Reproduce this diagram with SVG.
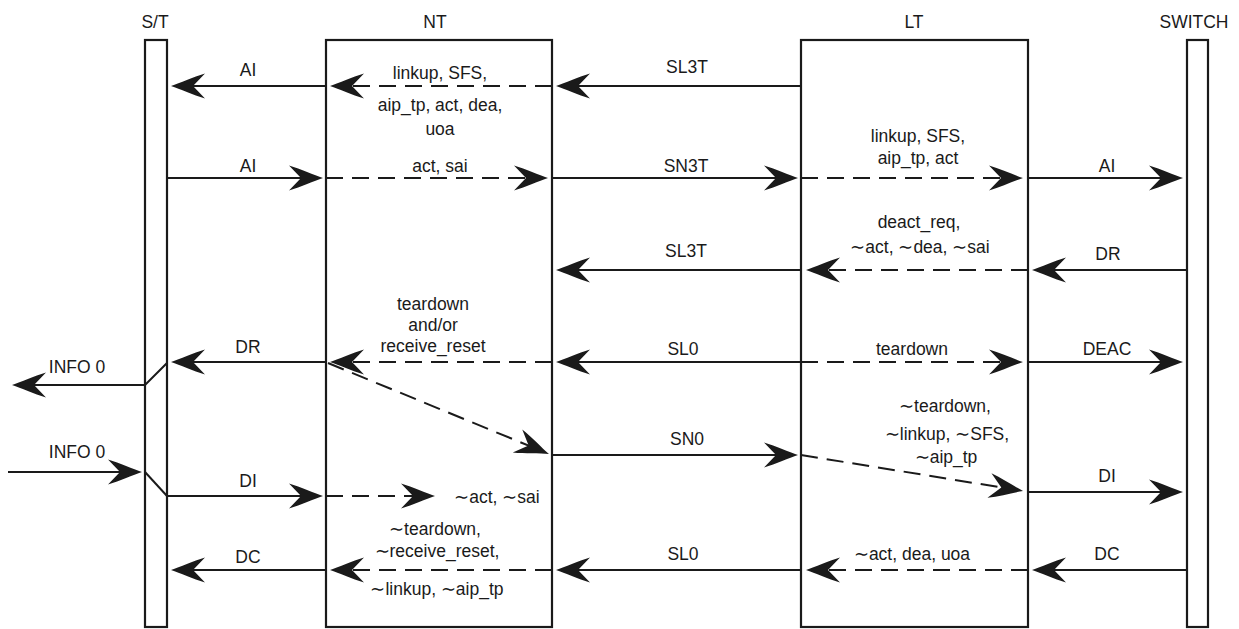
<svg xmlns="http://www.w3.org/2000/svg" width="1239" height="629" viewBox="0 0 1239 629">
<style>
.box{fill:#fff;stroke:#1a1a1a;stroke-width:2.2}
.ln{fill:none;stroke:#1a1a1a;stroke-width:2}
.ar{marker-end:url(#ah)}
.ds{stroke-dasharray:17 9}
text{font-family:"Liberation Sans",Arial,sans-serif;font-size:17.5px;fill:#1a1a1a;text-anchor:middle}
</style>
<defs>
<marker id="ah" markerUnits="userSpaceOnUse" markerWidth="42" markerHeight="30" viewBox="-38 -15 42 30" refX="-6" refY="0" orient="auto" overflow="visible">
<path d="M0,0 C-9,-3 -22,-9 -34,-12.5 L-22,0 L-34,12.5 C-22,9 -9,3 0,0Z" fill="#1a1a1a"/>
</marker>
</defs>
<g id="ST">
<rect class="box" x="145" y="40" width="22" height="587"/>
<text x="155" y="28">S/T</text>
</g>
<g id="NT">
<rect class="box" x="326" y="40" width="226" height="587"/>
<text x="435" y="28">NT</text>
</g>
<g id="LT">
<rect class="box" x="801" y="40" width="227" height="587"/>
<text x="914" y="28">LT</text>
</g>
<g id="SWITCH">
<rect class="box" x="1187" y="40" width="21" height="587"/>
<text x="1194" y="28">SWITCH</text>
</g>
<g id="connectors">
<path class="ln ar" d="M326,86 H177"/>
<path class="ln ar ds" d="M552,86 H336"/>
<path class="ln ar" d="M801,86 H562"/>
<path class="ln ar" d="M167,178 H317"/>
<path class="ln ar ds" d="M326,178 H542"/>
<path class="ln ar" d="M552,178 H792"/>
<path class="ln ar ds" d="M801,178 H1017"/>
<path class="ln ar" d="M1028,178 H1177"/>
<path class="ln ar" d="M1187,270 H1038"/>
<path class="ln ar ds" d="M1028,270 H812"/>
<path class="ln ar" d="M801,270 H562"/>
<path class="ln ar" d="M326,362 H177"/>
<path class="ln ar ds" d="M552,362 H336"/>
<path class="ln ar" d="M801,362 H562"/>
<path class="ln ar ds" d="M801,362 H1017"/>
<path class="ln ar" d="M1028,362 H1177"/>
<path class="ln ar" d="M167,363 L145,385 H18"/>
<path class="ln ar ds" d="M328,363 L543.4,451.7"/>
<path class="ln ar" d="M552,455 H792"/>
<path class="ln ar ds" d="M801,455 L1017.1,490"/>
<path class="ln ar" d="M8,472 H136"/>
<path class="ln" d="M145,472 L167,496"/>
<path class="ln ar" d="M167,496 H317"/>
<path class="ln ar ds" d="M326,496 H429"/>
<path class="ln ar" d="M1028,492 H1177"/>
<path class="ln ar" d="M1187,570 H1038"/>
<path class="ln ar ds" d="M1028,570 H812"/>
<path class="ln ar" d="M801,570 H562"/>
<path class="ln ar ds" d="M552,570 H336"/>
<path class="ln ar" d="M326,570 H177"/>
</g>
<g id="labels">
<text x="248" y="76">AI</text>
<text x="440" y="79">linkup, SFS,</text>
<text x="440" y="111">aip_tp, act, dea,</text>
<text x="440" y="135">uoa</text>
<text x="687" y="73">SL3T</text>
<text x="248" y="172">AI</text>
<text x="440" y="172">act, sai</text>
<text x="686" y="172">SN3T</text>
<text x="918" y="142">linkup, SFS,</text>
<text x="918" y="164">aip_tp, act</text>
<text x="1107" y="172">AI</text>
<text x="919" y="228">deact_req,</text>
<text x="920" y="253">∼act, ∼dea, ∼sai</text>
<text x="1108" y="260">DR</text>
<text x="686" y="257">SL3T</text>
<text x="433" y="310">teardown</text>
<text x="433" y="331">and/or</text>
<text x="433" y="352">receive_reset</text>
<text x="248" y="353">DR</text>
<text x="683" y="355">SL0</text>
<text x="912" y="355">teardown</text>
<text x="1107" y="355">DEAC</text>
<text x="77" y="373">INFO 0</text>
<text x="945" y="412">∼teardown,</text>
<text x="947" y="440">∼linkup, ∼SFS,</text>
<text x="946" y="463">∼aip_tp</text>
<text x="687" y="445">SN0</text>
<text x="77" y="458">INFO 0</text>
<text x="248" y="487">DI</text>
<text x="497" y="503">∼act, ∼sai</text>
<text x="1107" y="482">DI</text>
<text x="435" y="535">∼teardown,</text>
<text x="437" y="557">∼receive_reset,</text>
<text x="437" y="595">∼linkup, ∼aip_tp</text>
<text x="248" y="563">DC</text>
<text x="683" y="560">SL0</text>
<text x="912" y="560">∼act, dea, uoa</text>
<text x="1107" y="560">DC</text>
</g>
</svg>
